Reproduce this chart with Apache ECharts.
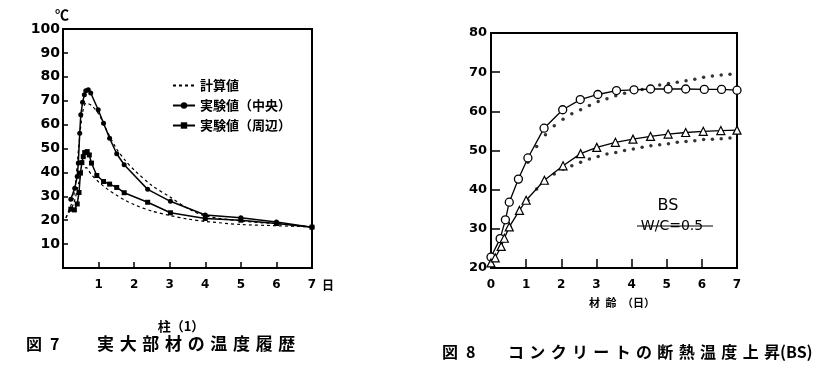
<!DOCTYPE html>
<html>
<head>
<meta charset="utf-8">
<script src="https://cdn.jsdelivr.net/npm/echarts@6/dist/echarts.min.js"></script>
<style>
  html, body { margin: 0; padding: 0; background: #fff; }
  #chart { width: 839px; height: 376px; }
</style>
</head>
<body>
<div id="chart"></div>
<script>
// 図7 実大部材の温度履歴 (柱(1))
const centerX = [0.22, 0.33, 0.40, 0.43, 0.47, 0.50, 0.55, 0.60, 0.64, 0.71, 0.78, 0.99, 1.14, 1.31, 1.51, 1.72, 2.38, 3.02, 4.00, 5.00, 6.00, 7.00];
const centerY = [28.8, 33.4, 38.3, 43.9, 56.4, 64.1, 69.3, 72.5, 74.2, 74.6, 73.2, 66.2, 60.6, 54.3, 47.8, 43.2, 32.9, 27.9, 22.2, 21.0, 19.2, 17.1];
const edgeX = [0.22, 0.32, 0.40, 0.45, 0.49, 0.53, 0.57, 0.61, 0.68, 0.74, 0.80, 0.95, 1.14, 1.31, 1.51, 1.72, 2.38, 3.02, 4.00, 5.00, 6.00, 7.00];
const edgeY = [24.6, 24.3, 26.8, 31.6, 39.7, 44.1, 46.6, 48.3, 48.7, 47.3, 43.9, 38.7, 36.2, 35.1, 33.7, 31.5, 27.5, 23.1, 20.7, 20.0, 18.6, 17.1];
const calcX = [0.08, 0.30, 0.45, 0.55, 0.65, 0.80, 1.00, 1.25, 1.50, 1.75, 2.00, 2.50, 3.00, 3.50, 4.00, 5.00, 6.00, 7.00];
const calcHighY = [21.0, 30.0, 52.0, 65.0, 69.0, 68.0, 64.5, 57.0, 50.0, 45.0, 41.0, 34.5, 29.8, 25.0, 21.8, 19.7, 18.5, 17.2];
const calcLowY = [21.0, 27.0, 36.0, 41.0, 42.0, 39.0, 36.0, 33.0, 30.5, 28.3, 26.5, 23.8, 22.0, 20.5, 19.5, 18.2, 17.7, 17.2];

// 図8 コンクリートの断熱温度上昇(BS)
const circleX = [0.00, 0.26, 0.41, 0.52, 0.78, 1.05, 1.51, 2.04, 2.54, 3.04, 3.57, 4.07, 4.54, 5.04, 5.54, 6.07, 6.56, 7.00];
const circleY = [22.8, 27.5, 32.3, 36.8, 42.7, 48.1, 55.7, 60.4, 63.0, 64.3, 65.3, 65.5, 65.7, 65.7, 65.7, 65.6, 65.6, 65.4];
const triX = [0.00, 0.12, 0.29, 0.38, 0.52, 0.81, 1.00, 1.52, 2.05, 2.55, 3.01, 3.54, 4.04, 4.54, 5.04, 5.54, 6.04, 6.54, 7.00];
const triY = [21.3, 22.6, 25.5, 27.6, 30.5, 34.7, 37.3, 42.4, 46.1, 49.2, 50.8, 52.1, 52.9, 53.6, 54.2, 54.6, 54.9, 55.1, 55.2];
const dotX = [0.30, 0.55, 0.80, 1.05, 1.30, 1.55, 1.80, 2.05, 2.30, 2.55, 2.80, 3.05, 3.30, 3.55, 3.80, 4.05, 4.30, 4.55, 4.80, 5.05, 5.30, 5.55, 5.80, 6.05, 6.30, 6.55, 6.80];
const dotHighY = [26.5, 37.0, 42.0, 47.0, 51.0, 54.0, 56.3, 58.0, 59.4, 60.4, 61.5, 62.5, 63.2, 64.0, 64.6, 65.1, 65.6, 66.2, 66.7, 67.1, 67.4, 67.8, 68.2, 68.7, 69.0, 69.3, 69.5];
const dotLowY = [25.0, 30.5, 34.3, 37.3, 40.2, 42.2, 44.0, 45.2, 46.1, 47.0, 47.8, 48.5, 49.1, 49.5, 50.0, 50.4, 50.8, 51.2, 51.5, 51.7, 52.1, 52.3, 52.5, 52.8, 52.9, 53.0, 53.2];

const leftXTicks = [1, 2, 3, 4, 5, 6, 7];

const pairs = (xs, ys) => xs.map((x, i) => [x, ys[i]]);
// 字間を広げる（原図の字送りに合わせる）
const spaced = (s, gap) => Array.from(s).join(gap || '\u2004');

const numFont = 'DejaVu Sans';
const jpFont = 'Noto Sans CJK JP';

const chart = echarts.init(document.getElementById('chart'));

const axisBase = {
  type: 'value',
  axisLine: { show: true, lineStyle: { color: '#000', width: 2 } },
  axisTick: { show: true, inside: true, lineStyle: { color: '#000', width: 1.5 } },
  splitLine: { show: false },
  axisLabel: { color: '#000', fontFamily: numFont, fontWeight: 'bold' },
};

const option = {
  animation: false,
  backgroundColor: '#fff',
  grid: [
    { left: 63, top: 29, width: 249, height: 239, show: true, borderColor: '#000', borderWidth: 2 },
    { left: 491, top: 33, width: 246, height: 235, show: true, borderColor: '#000', borderWidth: 2 },
  ],
  xAxis: [
    {
      ...axisBase, gridIndex: 0, min: 0, max: 7, interval: 1,
      axisTick: { ...axisBase.axisTick, length: 6 },
      axisLabel: {
        ...axisBase.axisLabel, fontSize: 12, margin: 11,
        formatter: v => (leftXTicks.includes(v) ? String(v) : ''),
      },
    },
    {
      ...axisBase, gridIndex: 1, min: 0, max: 7, interval: 1,
      axisTick: { ...axisBase.axisTick, length: 9 },
      axisLabel: { ...axisBase.axisLabel, fontSize: 12, margin: 11 },
    },
  ],
  yAxis: [
    {
      ...axisBase, gridIndex: 0, min: 0, max: 100, interval: 10,
      axisTick: { ...axisBase.axisTick, length: 5 },
      axisLabel: {
        ...axisBase.axisLabel, fontSize: 14, margin: 3,
        formatter: v => (v === 0 ? '' : String(v)),
      },
    },
    {
      ...axisBase, gridIndex: 1, min: 20, max: 80, interval: 10,
      axisTick: { ...axisBase.axisTick, length: 9 },
      axisLabel: { ...axisBase.axisLabel, fontSize: 13, margin: 4 },
    },
  ],
  legend: {
    data: ['計算値', '実験値（中央）', '実験値（周辺）'],
    orient: 'vertical',
    left: 167,
    top: 74,
    itemWidth: 22,
    itemHeight: 8,
    itemGap: 7,
    textStyle: { color: '#000', fontSize: 13, fontWeight: 'bold', fontFamily: jpFont },
  },
  series: [
    {
      name: '計算値', type: 'line', xAxisIndex: 0, yAxisIndex: 0,
      data: pairs(calcX, calcHighY), smooth: 0.3, symbol: 'none',
      lineStyle: { color: '#000', width: 1.2, type: [3, 3] }, itemStyle: { color: 'transparent', borderWidth: 0 },
    },
    {
      name: '計算値', type: 'line', xAxisIndex: 0, yAxisIndex: 0,
      data: pairs(calcX, calcLowY), smooth: 0.3, symbol: 'none',
      lineStyle: { color: '#000', width: 1.2, type: [3, 3] }, itemStyle: { color: 'transparent', borderWidth: 0 },
    },
    {
      name: '実験値（中央）', type: 'line', xAxisIndex: 0, yAxisIndex: 0,
      data: pairs(centerX, centerY), symbol: 'circle', symbolSize: 5, clip: false,
      lineStyle: { color: '#000', width: 1.5 }, itemStyle: { color: '#000' },
    },
    {
      name: '実験値（周辺）', type: 'line', xAxisIndex: 0, yAxisIndex: 0,
      data: pairs(edgeX, edgeY), symbol: 'rect', symbolSize: 5, clip: false,
      lineStyle: { color: '#000', width: 1.5 }, itemStyle: { color: '#000' },
    },
    {
      name: 'BS-circle', type: 'line', xAxisIndex: 1, yAxisIndex: 1,
      data: pairs(circleX, circleY), symbol: 'circle', symbolSize: 8, clip: false,
      lineStyle: { color: '#000', width: 1.3 },
      itemStyle: { color: '#fff', borderColor: '#000', borderWidth: 1.3 }, z: 3,
    },
    {
      name: 'BS-triangle', type: 'line', xAxisIndex: 1, yAxisIndex: 1,
      data: pairs(triX, triY), symbol: 'triangle', symbolSize: 8, clip: false,
      lineStyle: { color: '#000', width: 1.3 },
      itemStyle: { color: '#fff', borderColor: '#000', borderWidth: 1.2 }, z: 3,
    },
    {
      name: 'BS-calc-high', type: 'scatter', xAxisIndex: 1, yAxisIndex: 1,
      data: pairs(dotX, dotHighY), symbol: 'circle', symbolSize: 3.5,
      itemStyle: { color: '#000' }, z: 2,
    },
    {
      name: 'BS-calc-low', type: 'scatter', xAxisIndex: 1, yAxisIndex: 1,
      data: pairs(dotX, dotLowY), symbol: 'circle', symbolSize: 3.5,
      itemStyle: { color: '#000' }, z: 2,
    },
  ],
  graphic: [
    { type: 'text', x: 62, y: 15, style: { text: '℃', fill: '#000', font: 'bold 14px "Noto Sans CJK JP"', align: 'center', verticalAlign: 'middle' } },
    { type: 'text', x: 328, y: 285, style: { text: '日', fill: '#000', font: 'bold 12px "Noto Sans CJK JP"', align: 'center', verticalAlign: 'middle' } },
    { type: 'text', x: 181, y: 326, style: { text: '柱（1）', fill: '#000', font: 'bold 13px "Noto Sans CJK JP"', align: 'center', verticalAlign: 'middle' } },
    { type: 'text', x: 26, y: 344, style: { text: spaced('図7', '\u2002'), fill: '#000', font: 'bold 16px "Noto Sans CJK JP"', align: 'left', verticalAlign: 'middle' } },
    { type: 'text', x: 97, y: 344, style: { text: spaced('実大部材の温度履歴'), fill: '#000', font: 'bold 17px "Noto Sans CJK JP"', align: 'left', verticalAlign: 'middle' } },
    { type: 'text', x: 622, y: 303, style: { text: '材\u2002齢\u2002（日）', fill: '#000', font: 'bold 11px "Noto Sans CJK JP"', align: 'center', verticalAlign: 'middle' } },
    { type: 'text', x: 442, y: 352, style: { text: spaced('図8', '\u2002'), fill: '#000', font: 'bold 16px "Noto Sans CJK JP"', align: 'left', verticalAlign: 'middle' } },
    { type: 'text', x: 508, y: 352, style: { text: spaced('コンクリートの断熱温度上昇') + '(BS)', fill: '#000', font: 'bold 16px "Noto Sans CJK JP"', align: 'left', verticalAlign: 'middle' } },
    { type: 'text', x: 668, y: 206, style: { text: 'BS', fill: '#000', font: '16px "DejaVu Sans"', align: 'center', verticalAlign: 'middle' } },
    { type: 'text', x: 672, y: 226, style: { text: 'W/C=0.5', fill: '#000', font: '14px "DejaVu Sans"', align: 'center', verticalAlign: 'middle' } },
    { type: 'line', shape: { x1: 637, y1: 226, x2: 713, y2: 226 }, style: { stroke: '#000', lineWidth: 1.2 } },
  ],
};

chart.setOption(option);
</script>
</body>
</html>
